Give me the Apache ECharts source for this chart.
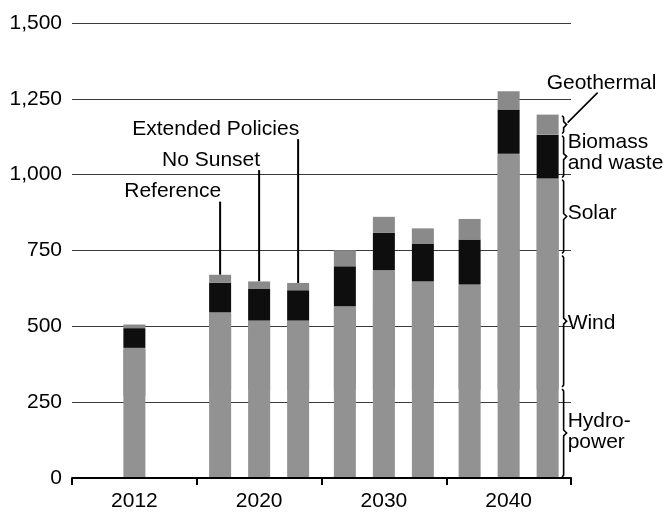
<!DOCTYPE html>
<html>
<head>
<meta charset="utf-8">
<script src="https://cdn.jsdelivr.net/npm/echarts/dist/echarts.min.js"></script>
<style>
  html, body { margin: 0; padding: 0; background: #fff; }
  #main { width: 667px; height: 515px; }
</style>
</head>
<body>
<div id="main"></div>
<script>
// ---- Data (billion kilowatthours) ----
const years = ['2012', '2020', '2030', '2040'];
const scenarios = ['Reference', 'No Sunset', 'Extended Policies'];
const layers = ['Hydropower', 'Wind', 'Solar', 'Biomass and waste', 'Geothermal'];
const yTicks = [0, 250, 500, 750, 1000, 1250, 1500];

// 2012 history, in layer order
const history2012 = [276, 140, 13, 65, 12];

// Projections for 2020, 2030, 2040
const refHydro   = [295, 297, 297];
const refWind    = [200, 205, 230];
const refSolar   = [51, 64, 111];
const refBiomass = [98, 132, 148];
const refGeo     = [26, 53, 68];

const nsHydro   = [295, 297, 297];
const nsWind    = [180, 270, 470];
const nsSolar   = [44, 118, 302];
const nsBiomass = [104, 123, 146];
const nsGeo     = [25, 53, 60];

const epHydro   = [295, 297, 297];
const epWind    = [180, 250, 440];
const epSolar   = [44, 101, 250];
const epBiomass = [100, 125, 145];
const epGeo     = [24, 50, 66];

const scenarioData = [
  [refHydro, refWind, refSolar, refBiomass, refGeo],
  [nsHydro, nsWind, nsSolar, nsBiomass, nsGeo],
  [epHydro, epWind, epSolar, epBiomass, epGeo]
];

// ---- Styling ----
const FONT = '"Liberation Sans", Arial, sans-serif';
const FS = 21;
const layerColors = ['#929292', '#929292', '#929292', '#0e0e0e', '#8a8a8a'];
// layers sitting on a same-coloured layer get a tiny same-colour shadow to hide the anti-alias seam
const seamCover = [false, true, true, false, false];
const BAR_W = 22;
const BAR_GAP_PX = 17;

const chart = echarts.init(document.getElementById('main'), null, { renderer: 'canvas' });

function barStyle(li) {
  const st = { color: layerColors[li] };
  if (seamCover[li]) {
    st.shadowColor = layerColors[li];
    st.shadowBlur = 0;
    st.shadowOffsetX = 0;
    st.shadowOffsetY = 1.5;
  }
  return st;
}

const series = [];
scenarios.forEach((s, si) => {
  layers.forEach((l, li) => {
    series.push({
      type: 'bar', name: l, stack: s, xAxisIndex: 0,
      barWidth: BAR_W, barGap: (BAR_GAP_PX / BAR_W * 100).toFixed(1) + '%',
      itemStyle: barStyle(li),
      data: [null].concat(scenarioData[si][li])
    });
  });
});
layers.forEach((l, li) => {
  series.push({
    type: 'bar', name: l, stack: 'history', xAxisIndex: 1,
    barWidth: BAR_W,
    itemStyle: barStyle(li),
    data: [history2012[li], null, null, null]
  });
});

chart.setOption({
  animation: false,
  backgroundColor: '#fff',
  textStyle: { fontFamily: FONT },
  grid: { left: 72, right: 96, top: 23, bottom: 37, containLabel: false },
  xAxis: [
    {
      type: 'category', data: years, z: 5,
      axisLine: { show: true, lineStyle: { color: '#000', width: 2 } },
      axisTick: { show: true, length: 7, lineStyle: { color: '#000', width: 2 } },
      axisLabel: { color: '#000', fontSize: FS, fontFamily: FONT, margin: 13 },
      splitLine: { show: false }
    },
    {
      type: 'category', data: years, show: false,
      axisLine: { show: false }, axisTick: { show: false }, axisLabel: { show: false }
    }
  ],
  yAxis: {
    type: 'value', min: yTicks[0], max: yTicks[yTicks.length - 1], interval: yTicks[1] - yTicks[0],
    axisLine: { show: false }, axisTick: { show: false },
    axisLabel: {
      color: '#000', fontSize: FS, fontFamily: FONT, margin: 10,
      formatter: v => v.toLocaleString('en-US')
    },
    splitLine: { show: true, lineStyle: { color: '#3a3a3a', width: 1 } }
  },
  series: series
});

// ---- Annotations derived from the data through the chart's scales ----
function yPx(v) { return chart.convertToPixel({ yAxisIndex: 0 }, v); }
function xCat(c) { return chart.convertToPixel({ xAxisIndex: 0 }, c); }
function sum(arrs, i) { return arrs.reduce((a, arr) => a + arr[i], 0); }

const g = [];
const pitch = BAR_W + BAR_GAP_PX;
const x2020 = xCat('2020');
const labelLevels = [944, 1048, 1150];
scenarios.forEach((s, si) => {
  const bx = x2020 + (si - 1) * pitch;
  const top = yPx(sum(scenarioData[si], 0));
  const ty = yPx(labelLevels[si]);
  g.push({
    type: 'text',
    style: { text: s, x: bx + 1, y: ty, font: FS + 'px ' + FONT, fill: '#000',
             align: 'right', textAlign: 'right', verticalAlign: 'middle', textVerticalAlign: 'middle' }
  });
  g.push({
    type: 'line',
    shape: { x1: bx, y1: ty + 10, x2: bx, y2: top },
    style: { stroke: '#000', lineWidth: 2 }
  });
});

// Braces alongside the last bar (Extended Policies, 2040)
const lastIdx = 2;
const x2040 = xCat('2040');
const lastBarX = x2040 + pitch;
const braceX = lastBarX + BAR_W / 2 + 5;
let cum = 0;
const bounds = [];
scenarioData[2].forEach(arr => {
  const v0 = cum; cum += arr[lastIdx];
  bounds.push([yPx(cum), yPx(v0)]);
});
bounds.forEach(([yt, yb]) => {
  const ym = (yt + yb) / 2;
  g.push({
    type: 'polyline',
    shape: { points: [[braceX - 1.5, yt + 1], [braceX, yt + 3], [braceX, ym - 3], [braceX + 3, ym],
                      [braceX, ym + 3], [braceX, yb - 3], [braceX - 1.5, yb - 1]] },
    style: { stroke: '#000', lineWidth: 1.6, fill: null }
  });
});
const sideLabels = ['Hydro-\npower', 'Wind', 'Solar', 'Biomass\nand waste', null];
const sideDy = [-1, 2, -3, -4, 0];
sideLabels.forEach((t, i) => {
  if (!t) return;
  const ym = (bounds[i][0] + bounds[i][1]) / 2;
  g.push({
    type: 'text',
    style: { text: t, x: braceX + 4, y: ym + sideDy[i], font: FS + 'px ' + FONT, fill: '#000',
             lineHeight: 21, align: 'left', textAlign: 'left', verticalAlign: 'middle', textVerticalAlign: 'middle' }
  });
});
const geoMid = (bounds[4][0] + bounds[4][1]) / 2;
g.push({
  type: 'line',
  shape: { x1: braceX + 4, y1: geoMid - 2, x2: braceX + 34, y2: geoMid - 32 },
  style: { stroke: '#000', lineWidth: 1.6 }
});
g.push({
  type: 'text',
  style: { text: 'Geothermal', x: braceX - 17, y: geoMid - 41, font: FS + 'px ' + FONT, fill: '#000',
           align: 'left', textAlign: 'left', verticalAlign: 'middle', textVerticalAlign: 'middle' }
});

chart.setOption({ graphic: g });
</script>
</body>
</html>
